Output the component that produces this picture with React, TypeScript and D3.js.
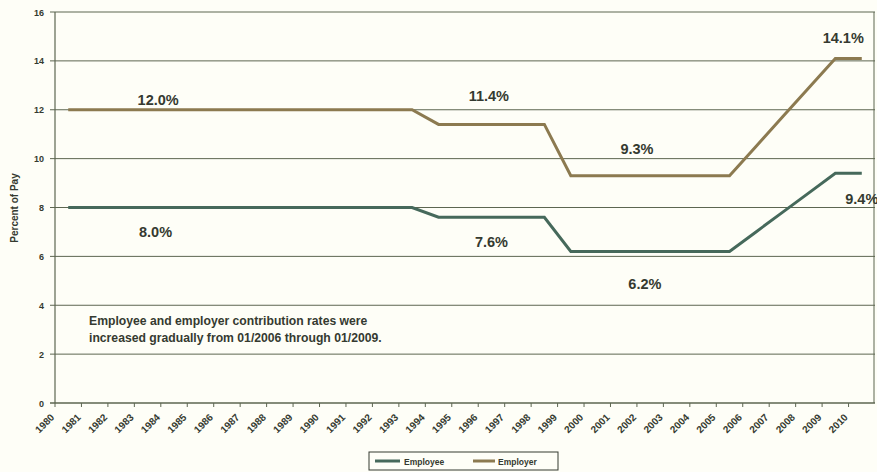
import React from 'react';
import * as d3 from 'd3';

// contribution rates by year
const years = d3.range(1980, 2011).map(String);
const employee = [
  8.0, 8.0, 8.0, 8.0, 8.0, 8.0, 8.0, 8.0, 8.0, 8.0, 8.0, 8.0, 8.0, 8.0,
  7.6, 7.6, 7.6, 7.6, 7.6,
  6.2, 6.2, 6.2, 6.2, 6.2, 6.2, 6.2,
  7.0, 7.8, 8.6, 9.4, 9.4,
];
const employer = [
  12.0, 12.0, 12.0, 12.0, 12.0, 12.0, 12.0, 12.0, 12.0, 12.0, 12.0, 12.0, 12.0, 12.0,
  11.4, 11.4, 11.4, 11.4, 11.4,
  9.3, 9.3, 9.3, 9.3, 9.3, 9.3, 9.3,
  10.5, 11.7, 12.9, 14.1, 14.1,
];
const yTicks = [0, 2, 4, 6, 8, 10, 12, 14, 16];

// value labels: [text, year the label sits near, value of its baseline]
const valueLabels: [string, number, number][] = [
  ['12.0%', 1983.4, 12.2],
  ['8.0%', 1983.3, 6.8],
  ['11.4%', 1995.9, 12.35],
  ['7.6%', 1996.0, 6.4],
  ['9.3%', 2001.5, 10.2],
  ['6.2%', 2001.8, 4.65],
  ['14.1%', 2009.3, 14.75],
  ['9.4%', 2010.0, 8.15],
];
const note = [
  'Employee and employer contribution rates were',
  'increased gradually from 01/2006 through 01/2009.',
];

const W = 877;
const H = 472;
const left = 55, right = 875, top = 12, bottom = 403;
const empColor = '#46695b';
const emrColor = '#8c7a50';
const ink = '#353a30';
const grid = '#5d6651';
const font = '"Liberation Sans", Arial, sans-serif';

export default function App() {
  const x = d3.scaleBand().domain(years).range([left, right]);
  const y = d3.scaleLinear().domain([0, 16]).range([bottom, top]);
  const cx = (i: number) => (x(years[i]) as number) + x.bandwidth() / 2;
  const cxYear = (yr: number) => left + x.bandwidth() * (yr - 1980 + 0.5);

  const line = d3.line<number>().x((d, i) => cx(i)).y((d) => y(d));

  return (
    <svg width={W} height={H} style={{ position: 'absolute', left: 0, top: 0, background: '#fefef7' }} fontFamily={font}>
      {/* grid */}
      {yTicks.map((t) => (
        <g key={t}>
          <line x1={left - 5} x2={right} y1={y(t)} y2={y(t)} stroke={grid} strokeWidth={t === 0 ? 1.5 : 1} />
          <text x={left - 11} y={y(t) + 3.5} textAnchor="end" fontSize={9} fontWeight="bold" fill={ink}>{t}</text>
        </g>
      ))}
      <line x1={left} x2={left} y1={top} y2={bottom} stroke={grid} strokeWidth={1.2} />
      <line x1={right - 1} x2={right - 1} y1={top} y2={bottom} stroke={grid} strokeWidth={1} />

      {/* x ticks and rotated labels */}
      {years.map((yr) => {
        const x0 = x(yr) as number;
        return (
          <g key={yr}>
            <line x1={x0} x2={x0} y1={bottom} y2={bottom + 4} stroke={grid} />
            <text transform={`translate(${x0},${bottom + 15}) rotate(-45)`} textAnchor="end" fontSize={10} fontWeight="bold" fill={ink}>{yr}</text>
          </g>
        );
      })}

      <text transform={`translate(18,${208}) rotate(-90)`} textAnchor="middle" fontSize={10} fontWeight="bold" fill={ink}>Percent of Pay</text>

      {/* series */}
      <path d={line(employer) as string} fill="none" stroke={emrColor} strokeWidth={3} />
      <path d={line(employee) as string} fill="none" stroke={empColor} strokeWidth={3} />

      {valueLabels.map(([t, yr, v]) => (
        <text key={t} x={cxYear(yr)} y={y(v)} textAnchor="middle" fontSize={14.5} fontWeight="bold" fill={ink}>{t}</text>
      ))}

      {note.map((t, i) => (
        <text key={i} x={89} y={325 + i * 17} fontSize={12.2} fontWeight="bold" fill={ink}>{t}</text>
      ))}

      {/* legend */}
      <rect x={369} y={452} width={189} height={18} fill="#fefef7" stroke={ink} strokeWidth={1} />
      <line x1={375} x2={400} y1={461} y2={461} stroke={empColor} strokeWidth={3} />
      <text x={404} y={464.5} fontSize={8.5} fontWeight="bold" fill={ink}>Employee</text>
      <line x1={473} x2={495} y1={461} y2={461} stroke={emrColor} strokeWidth={3} />
      <text x={498} y={464.5} fontSize={8.5} fontWeight="bold" fill={ink}>Employer</text>
    </svg>
  );
}
